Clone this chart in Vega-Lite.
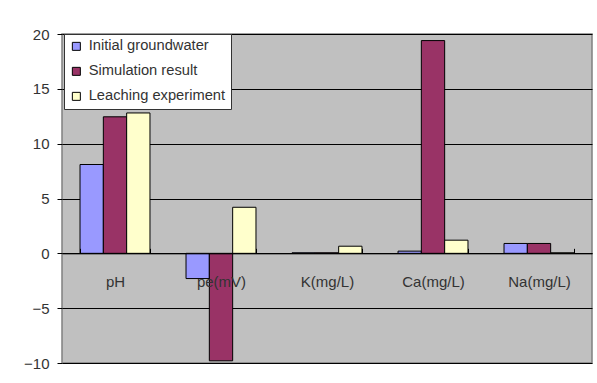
{
  "$schema": "https://vega.github.io/schema/vega-lite/v6.json",
  "width": 530,
  "height": 329,
  "autosize": {"type": "none"},
  "padding": {"left": 62, "top": 34, "right": 5, "bottom": 20},
  "background": "white",
  "data": {
    "values": [
      {"item": "pH", "series": "Initial groundwater", "value": 8.1},
      {"item": "pH", "series": "Simulation result", "value": 12.45},
      {"item": "pH", "series": "Leaching experiment", "value": 12.8},
      {"item": "pe(mV)", "series": "Initial groundwater", "value": -2.3},
      {"item": "pe(mV)", "series": "Simulation result", "value": -9.8},
      {"item": "pe(mV)", "series": "Leaching experiment", "value": 4.2},
      {"item": "K(mg/L)", "series": "Initial groundwater", "value": 0.05},
      {"item": "K(mg/L)", "series": "Simulation result", "value": 0.05},
      {"item": "K(mg/L)", "series": "Leaching experiment", "value": 0.65},
      {"item": "Ca(mg/L)", "series": "Initial groundwater", "value": 0.2},
      {"item": "Ca(mg/L)", "series": "Simulation result", "value": 19.4},
      {"item": "Ca(mg/L)", "series": "Leaching experiment", "value": 1.2},
      {"item": "Na(mg/L)", "series": "Initial groundwater", "value": 0.9},
      {"item": "Na(mg/L)", "series": "Simulation result", "value": 0.9},
      {"item": "Na(mg/L)", "series": "Leaching experiment", "value": 0.05}
    ]
  },
  "mark": {"type": "bar", "stroke": "black", "strokeWidth": 1},
  "encoding": {
    "x": {
      "field": "item",
      "type": "nominal",
      "sort": null,
      "scale": {"paddingInner": 0.34, "paddingOuter": 0.17},
      "axis": {
        "title": null,
        "orient": "bottom",
        "offset": -109.67,
        "zindex": 1,
        "domainColor": "black",
        "domainWidth": 1,
        "tickBand": "extent",
        "tickColor": "black",
        "tickSize": -5,
        "labelAngle": 0,
        "labelFontSize": 15,
        "labelFont": "Liberation Sans",
        "labelColor": "#333333",
        "labelPadding": 26
      }
    },
    "xOffset": {
      "field": "series",
      "type": "nominal",
      "sort": ["Initial groundwater", "Simulation result", "Leaching experiment"]
    },
    "y": {
      "field": "value",
      "type": "quantitative",
      "scale": {"domain": [-10, 20], "nice": false, "zero": false},
      "axis": {
        "title": null,
        "values": [-10, -5, 0, 5, 10, 15, 20],
        "domain": false,
        "grid": true,
        "gridColor": "black",
        "gridOpacity": 1,
        "gridWidth": 1,
        "tickColor": "black",
        "tickSize": 5,
        "labelFontSize": 15,
        "labelFont": "Liberation Sans",
        "labelColor": "#333333",
        "labelPadding": 8
      }
    },
    "color": {
      "field": "series",
      "type": "nominal",
      "scale": {
        "domain": ["Initial groundwater", "Simulation result", "Leaching experiment"],
        "range": ["#9999FF", "#993366", "#FFFFCC"]
      },
      "legend": {
        "title": null,
        "orient": "none",
        "legendX": 2,
        "legendY": 0,
        "fillColor": "white",
        "strokeColor": "#333333",
        "padding": 5,
        "symbolType": "square",
        "symbolSize": 64,
        "symbolStrokeColor": "black",
        "symbolStrokeWidth": 1,
        "symbolOpacity": 1,
        "labelFontSize": 14.7,
        "labelFont": "Liberation Sans",
        "labelColor": "#333333",
        "labelOffset": 5,
        "rowPadding": 9
      }
    }
  },
  "config": {
    "view": {"fill": "#C0C0C0", "stroke": "#808080", "strokeWidth": 1.5}
  }
}
